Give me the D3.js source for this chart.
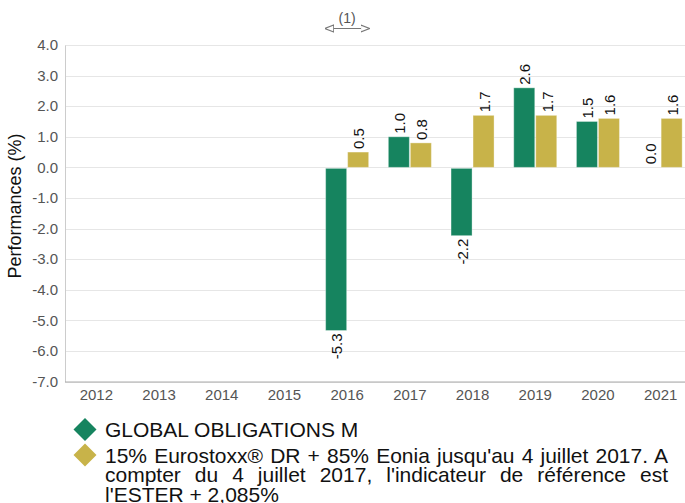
<!DOCTYPE html>
<html>
<head>
<meta charset="utf-8">
<script src="https://cdn.jsdelivr.net/npm/d3@7"></script>
<style>
  html, body { margin: 0; padding: 0; background: #fff; overflow: hidden; }
  svg { display: block; font-family: "Liberation Sans", Arial, sans-serif; }
</style>
</head>
<body>
<svg id="chart" width="685" height="503"></svg>
<script>
const years = ["2012","2013","2014","2015","2016","2017","2018","2019","2020","2021"];
const fundValues  = [null, null, null, null, -5.3, 1.0, -2.2, 2.6, 1.5, 0.0];
const benchValues = [null, null, null, null, 0.5, 0.8, 1.7, 1.7, 1.6, 1.6];
const seriesNames = ["GLOBAL OBLIGATIONS M",
  "15% Eurostoxx® DR + 85% Eonia jusqu'au 4 juillet 2017. A compter du 4 juillet 2017, l'indicateur de référence est l'ESTER + 2,085%"];
const benchLegendLines = ["15% Eurostoxx® DR + 85% Eonia jusqu'au 4 juillet 2017. A",
  "compter du 4 juillet 2017, l'indicateur de référence est",
  "l'ESTER + 2,085%"];
const yTicks = [4, 3, 2, 1, 0, -1, -2, -3, -4, -5, -6, -7];
const annotationYear = "2016";
const annotationText = "(1)";

const colors = ["#16845f", "#c8b349"];

const fmt = d3.formatLocale({ decimal: ".", thousands: ",", grouping: [3], currency: ["", ""], minus: "-" }).format(".1f");

const svg = d3.select("#chart");
const pLeft = 65, pRight = 692, pTop = 45, pBottom = 381.5;

const x0 = d3.scaleBand().domain(years).range([pLeft, pRight]).paddingInner(0.314).paddingOuter(0.157);
const x1 = d3.scaleBand().domain([0, 1]).range([0, x0.bandwidth()]).paddingInner(0.045);
const y = d3.scaleLinear().domain([-7, 4]).range([pBottom, pTop]);

// gridlines
svg.append("g").selectAll("line").data(yTicks).join("line")
  .attr("x1", pLeft).attr("x2", 685)
  .attr("y1", d => Math.round(y(d)) + 0.5).attr("y2", d => Math.round(y(d)) + 0.5)
  .attr("stroke", "#e6e6e6").attr("stroke-width", 1);

// y axis
const yAxis = svg.append("g").attr("transform", `translate(${pLeft},0)`)
  .call(d3.axisLeft(y).tickValues(yTicks).tickFormat(fmt).tickSize(0).tickPadding(7));
yAxis.select(".domain").attr("stroke", "#cccccc");
yAxis.selectAll("text").attr("font-size", 15).attr("fill", "#555")
  .attr("font-family", "Liberation Sans, Arial, sans-serif");

// x axis
const xAxis = svg.append("g").attr("transform", `translate(0,${pBottom})`)
  .call(d3.axisBottom(x0).tickSize(0).tickPadding(8));
xAxis.select(".domain").attr("stroke", "#aaaaaa").attr("d", `M${pLeft},0.5H685`);
xAxis.selectAll("text").attr("font-size", 15).attr("fill", "#555")
  .attr("font-family", "Liberation Sans, Arial, sans-serif");

// y label
svg.append("text")
  .attr("transform", "translate(21,206) rotate(-90)")
  .attr("text-anchor", "middle")
  .attr("font-size", 18).attr("fill", "#111")
  .text("Performances (%)");

// bars
const series = [fundValues, benchValues];
const bars = [];
series.forEach((vals, si) => {
  vals.forEach((v, i) => { if (v !== null) bars.push({ year: years[i], s: si, v }); });
});
svg.append("g").selectAll("rect").data(bars).join("rect")
  .attr("x", d => x0(d.year) + x1(d.s))
  .attr("width", x1.bandwidth())
  .attr("y", d => Math.min(y(d.v), y(0)) + (d.v < 0 ? 1 : 0))
  .attr("height", d => Math.abs(y(d.v) - y(0)))
  .attr("fill", d => colors[d.s])
  .attr("stroke", "rgba(255,255,255,0.35)").attr("stroke-width", 1);

// value labels
svg.append("g").selectAll("text").data(bars).join("text")
  .attr("transform", d => {
    const cx = x0(d.year) + x1(d.s) + x1.bandwidth() / 2 + 1;
    const cy = d.v >= 0 ? y(d.v) - 3 : y(d.v) + 4;
    return `translate(${cx},${cy}) rotate(-90)`;
  })
  .attr("dy", "0.35em")
  .attr("text-anchor", d => d.v >= 0 ? "start" : "end")
  .attr("font-size", 15).attr("fill", "#111")
  .text(d => fmt(d.v));

// annotation arrow
const defs = svg.append("defs");
["start", "end"].forEach(k => {
  defs.append("marker").attr("id", "arr-" + k)
    .attr("viewBox", "0 0 10 10").attr("refX", 9).attr("refY", 5)
    .attr("markerWidth", 9).attr("markerHeight", 9).attr("markerUnits", "userSpaceOnUse")
    .attr("orient", "auto-start-reverse")
    .append("path").attr("d", "M0,1L10,5L0,9Z").attr("fill", "#fff").attr("stroke", "#777").attr("stroke-width", 1.2);
});
const ax0 = x0(annotationYear), ax1 = x0(annotationYear) + x0.bandwidth();
svg.append("line").attr("x1", ax0).attr("x2", ax1).attr("y1", 28.5).attr("y2", 28.5)
  .attr("stroke", "#777").attr("stroke-width", 1)
  .attr("marker-start", "url(#arr-start)").attr("marker-end", "url(#arr-end)");
svg.append("text").attr("x", (ax0 + ax1) / 2).attr("y", 23).attr("text-anchor", "middle")
  .attr("font-size", 14).attr("fill", "#555").text(annotationText);

// legend
const legX = 85, textX = 105, legRight = 668;
const diamond = d3.symbol().type(d3.symbolSquare).size(265);
svg.append("path").attr("d", diamond()).attr("fill", colors[0])
  .attr("transform", `translate(${legX},429.5) rotate(45)`);
svg.append("path").attr("d", diamond()).attr("fill", colors[1])
  .attr("transform", `translate(${legX},455) rotate(45)`);

svg.append("text").attr("x", textX).attr("y", 437).attr("font-size", 21).attr("fill", "#111")
  .text(seriesNames[0]);

const lineYs = [462.5, 482, 501.5];
benchLegendLines.forEach((ln, i) => {
  const t = svg.append("text").attr("x", textX).attr("y", lineYs[i])
    .attr("font-size", 21).attr("fill", "#111").text(ln);
  if (i < benchLegendLines.length - 1) {
    const w = t.node().getComputedTextLength();
    const spaces = (ln.match(/ /g) || []).length;
    if (spaces > 0) t.attr("word-spacing", ((legRight - textX) - w) / spaces);
  }
});
</script>
</body>
</html>
